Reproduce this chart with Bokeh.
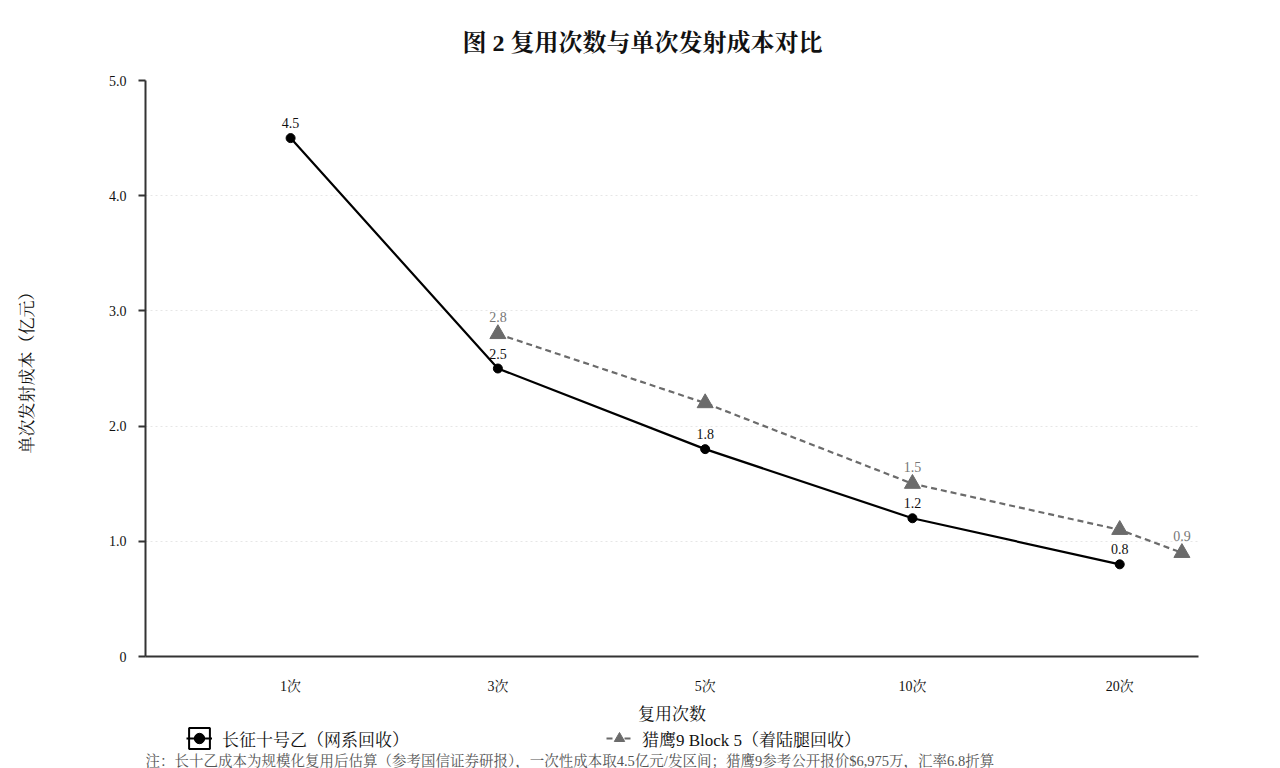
from bokeh.plotting import figure
from bokeh.models import (ColumnDataSource, LabelSet, Legend, LegendItem, Label,
                          FixedTicker, NumeralTickFormatter, Range1d)
from bokeh.layouts import column
from bokeh.embed import file_html
from bokeh.resources import INLINE

# ---- data ----
categories = ["1次", "3次", "5次", "10次", "20次"]
cat_pos = [0, 1, 2, 3, 4]
cz10b_values = [4.5, 2.5, 1.8, 1.2, 0.8]
cz10b_labels = ["4.5", "2.5", "1.8", "1.2", "0.8"]
f9_pos = [1, 2, 3, 4, 4.3]
f9_values = [2.8, 2.2, 1.5, 1.1, 0.9]
f9_labels = ["2.8", "", "1.5", "", "0.9"]
y_ticks = [0, 1, 2, 3, 4, 5]

title_text = "图 2 复用次数与单次发射成本对比"
x_label = "复用次数"
y_label = "单次发射成本（亿元）"
name_cz = "长征十号乙（网系回收）"
name_f9 = "猎鹰9 Block 5（着陆腿回收）"
note_text = "注：长十乙成本为规模化复用后估算（参考国信证券研报），一次性成本取4.5亿元/发区间；猎鹰9参考公开报价$6,975万，汇率6.8折算"

FONT = "'Liberation Serif', 'Noto Serif CJK SC', 'Noto Sans CJK SC', serif"

# styles
CZ_COLOR = "#000000"
F9_COLOR = "#6b6b6b"

p = figure(frame_width=1053, frame_height=576, output_backend="svg",
           toolbar_location=None,
           x_range=Range1d(-0.7, 4.38), y_range=Range1d(0, 5),
           min_border_left=145, min_border_right=66, min_border_top=80,
           min_border_bottom=66)
p.outline_line_color = None
p.background_fill_color = "white"

# title
p.title.text = title_text
p.title.text_font = FONT
p.title.text_font_size = "24px"
p.title.text_font_style = "bold"
p.title.text_color = "#111111"
p.title.align = "left"
p.title.offset = 317
p.title.standoff = 50

# axes
xa = p.xaxis[0]
xa.ticker = FixedTicker(ticks=cat_pos)
xa.major_label_overrides = {i: c for i, c in zip(cat_pos, categories)}
xa.major_tick_line_color = None
xa.minor_tick_line_color = None
xa.axis_line_width = 2
xa.axis_line_color = "#333333"
xa.major_label_text_font = FONT
xa.major_label_text_font_size = "14px"
xa.major_label_text_color = "#111111"
xa.major_label_standoff = 16
xa.axis_label = x_label
xa.axis_label_text_font = FONT
xa.axis_label_text_font_size = "17px"
xa.axis_label_text_font_style = "normal"
xa.axis_label_text_color = "#111111"
xa.axis_label_standoff = 8

ya = p.yaxis[0]
ya.ticker = FixedTicker(ticks=y_ticks)
ya.formatter = NumeralTickFormatter(format="0.0")
ya.major_label_overrides = {0: "0"}
ya.minor_tick_line_color = None
ya.major_tick_in = 0
ya.major_tick_out = 7
ya.major_tick_line_width = 2
ya.major_tick_line_color = "#333333"
ya.axis_line_width = 2
ya.axis_line_color = "#333333"
ya.major_label_text_font = FONT
ya.major_label_text_font_size = "14px"
ya.major_label_text_color = "#111111"
ya.major_label_standoff = 12
ya.axis_label = y_label
ya.axis_label_text_font = FONT
ya.axis_label_text_font_size = "17px"
ya.axis_label_text_font_style = "normal"
ya.axis_label_text_color = "#111111"
ya.axis_label_standoff = 69

p.xgrid.grid_line_color = None
p.ygrid.ticker = FixedTicker(ticks=[1, 2, 3, 4])
p.ygrid.grid_line_color = "#e6e6e6"
p.ygrid.grid_line_dash = "2 3"
p.ygrid.grid_line_width = 1

# series
src_cz = ColumnDataSource(dict(x=cat_pos, y=cz10b_values, t=cz10b_labels))
src_f9 = ColumnDataSource(dict(x=f9_pos, y=f9_values, t=f9_labels))

p.line("x", "y", source=src_f9, line_color=F9_COLOR, line_width=2.2, line_dash="6 4")
p.scatter("x", "y", source=src_f9, marker="triangle", size=16,
          fill_color=F9_COLOR, line_color=F9_COLOR)
p.line("x", "y", source=src_cz, line_color=CZ_COLOR, line_width=2.2)
p.scatter("x", "y", source=src_cz, marker="circle", size=9,
          fill_color=CZ_COLOR, line_color=CZ_COLOR)

p.add_layout(LabelSet(x="x", y="y", text="t", source=src_cz, y_offset=10,
                      text_align="center", text_baseline="bottom",
                      text_font=FONT, text_font_size="14px", text_color="#111111"))
p.add_layout(LabelSet(x="x", y="y", text="t", source=src_f9, y_offset=12,
                      text_align="center", text_baseline="bottom",
                      text_font=FONT, text_font_size="14px", text_color="#777777"))

# ---- bottom strip: legend + note (frame aligned with the main frame) ----
s = figure(width=1264, height=42, output_backend="svg", toolbar_location=None,
           x_range=Range1d(145, 1198), y_range=Range1d(0, 42),
           x_axis_type=None, y_axis_type=None,
           min_border_left=0, min_border_right=0, min_border_top=0,
           min_border_bottom=0)
s.outline_line_color = None
s.xgrid.visible = False
s.ygrid.visible = False

# legend-only renderers: one point far outside the strip's visible range
off = dict(x=[-9999], y=[-9999])
lg_box = s.quad(left="x", right="x", bottom="y", top="y",
                source=ColumnDataSource(off), fill_color=None,
                line_color=CZ_COLOR, line_width=2)
lg_cz_line = s.line(x="x", y="y", source=ColumnDataSource(off),
                    line_color=CZ_COLOR, line_width=2)
lg_cz_mark = s.scatter(x="x", y="y", source=ColumnDataSource(off), marker="circle",
                       size=8, fill_color=CZ_COLOR, line_color=CZ_COLOR)
lg_f9_line = s.line(x="x", y="y", source=ColumnDataSource(off),
                    line_color=F9_COLOR, line_width=2.2, line_dash="6 12")
lg_f9_mark = s.scatter(x="x", y="y", source=ColumnDataSource(off), marker="triangle",
                       size=16, fill_color=F9_COLOR, line_color=F9_COLOR)

legend = Legend(items=[
    LegendItem(label=name_cz, renderers=[lg_box, lg_cz_line, lg_cz_mark]),
    LegendItem(label=name_f9, renderers=[lg_f9_line, lg_f9_mark]),
], orientation="horizontal", location=(41, 17), margin=0, padding=2,
    spacing=197, label_text_font=FONT, label_text_font_size="17px",
    label_text_color="#111111", glyph_width=26, glyph_height=26,
    label_height=26, label_standoff=10, border_line_color=None,
    background_fill_alpha=0)
s.add_layout(legend, "center")

s.add_layout(Label(x=145, y=8, text=note_text, text_font=FONT,
                   text_font_size="14.5px", text_color="#555555",
                   text_baseline="middle", text_align="left"))

open("out.html", "w").write(file_html(column(p, s, spacing=0), INLINE))
